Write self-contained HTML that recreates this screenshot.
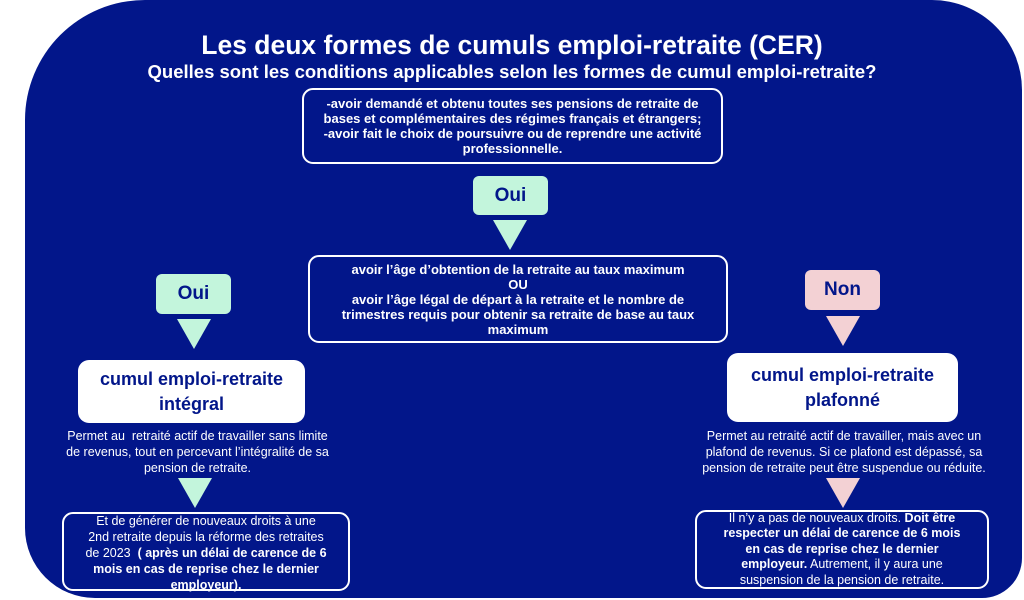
<!DOCTYPE html>
<html><head><meta charset="utf-8"><style>
html,body{margin:0;padding:0;background:#fff;}
body{width:1024px;height:600px;position:relative;overflow:hidden;font-family:"Liberation Sans",sans-serif;}
.bg{position:absolute;left:25px;top:0;width:997px;height:598px;background:#02168a;border-radius:120px 90px 40px 70px;}
.a{position:absolute;color:#fff;text-align:center;}
.box{position:absolute;border:2px solid #fff;border-radius:11px;box-sizing:border-box;display:flex;align-items:center;justify-content:center;text-align:center;color:#fff;font-size:13px;line-height:15px;font-weight:bold;}
.tag{position:absolute;border-radius:6px;display:flex;align-items:center;justify-content:center;font-weight:bold;font-size:19px;color:#02168a;}
.g{background:#c3f5dc;}.p{background:#f3d1d4;}
.tri{position:absolute;width:0;height:0;border-left:17px solid transparent;border-right:17px solid transparent;border-top:30px solid #c3f5dc;}
.tri.pk{border-top-color:#f3d1d4;}
.wb{position:absolute;background:#fff;border-radius:11px;display:flex;align-items:center;justify-content:center;text-align:center;color:#02168a;font-weight:bold;font-size:18px;line-height:25px;}
.par{position:absolute;color:#fff;text-align:center;font-size:12.5px;line-height:16px;}
</style></head><body>
<div class="bg"></div>
<div class="a" style="left:0;width:1024px;top:29px;font-size:26.5px;font-weight:bold;line-height:32px;">Les deux formes de cumuls emploi-retraite (CER)</div>
<div class="a" style="left:0;width:1024px;top:61px;font-size:18.5px;font-weight:bold;line-height:22px;">Quelles sont les conditions applicables selon les formes de cumul emploi-retraite?</div>
<div class="box" style="left:302px;top:88px;width:421px;height:76px;"><div>-avoir demandé et obtenu toutes ses pensions de retraite de<br>bases et complémentaires des régimes français et étrangers;<br>-avoir fait le choix de poursuivre ou de reprendre une activité<br>professionnelle.</div></div>
<div class="tag g" style="left:473px;top:176px;width:75px;height:39px;">Oui</div>
<div class="tri" style="left:493px;top:220px;"></div>
<div class="box" style="left:308px;top:255px;width:420px;height:88px;"><div>avoir l’âge d’obtention de la retraite au taux maximum<br>OU<br>avoir l’âge légal de départ à la retraite et le nombre de<br>trimestres requis pour obtenir sa retraite de base au taux<br>maximum</div></div>
<div class="tag g" style="left:156px;top:274px;width:75px;height:40px;">Oui</div>
<div class="tri" style="left:177px;top:319px;"></div>
<div class="tag p" style="left:805px;top:270px;width:75px;height:40px;">Non</div>
<div class="tri pk" style="left:826px;top:316px;"></div>
<div class="wb" style="left:78px;top:360px;width:227px;height:63px;"><div>cumul emploi-retraite<br>intégral</div></div>
<div class="wb" style="left:727px;top:353px;width:231px;height:69px;"><div>cumul emploi-retraite<br>plafonné</div></div>
<div class="par" style="left:40px;top:428px;width:315px;">Permet au &nbsp;retraité actif de travailler sans limite<br>de revenus, tout en percevant l’intégralité de sa<br>pension de retraite.</div>
<div class="par" style="left:675px;top:428px;width:338px;">Permet au retraité actif de travailler, mais avec un<br>plafond de revenus. Si ce plafond est dépassé, sa<br>pension de retraite peut être suspendue ou réduite.</div>
<div class="tri" style="left:178px;top:478px;"></div>
<div class="tri pk" style="left:826px;top:478px;"></div>
<div class="box" style="left:62px;top:512px;width:288px;height:79px;font-weight:normal;font-size:12.5px;line-height:16px;padding-top:2px;"><div>Et de générer de nouveaux droits à une<br>2nd retraite depuis la réforme des retraites<br>de 2023 <b>&nbsp;( après un délai de carence de 6<br>mois en cas de reprise chez le dernier<br>employeur).</b></div></div>
<div class="box" style="left:695px;top:510px;width:294px;height:79px;font-weight:normal;font-size:12.5px;line-height:15.5px;"><div>Il n’y a pas de nouveaux droits. <b>Doit être</b><br><b>respecter un délai de carence de 6 mois</b><br><b>en cas de reprise chez le dernier</b><br><b>employeur.</b> Autrement, il y aura une<br>suspension de la pension de retraite.</div></div>
</body></html>
